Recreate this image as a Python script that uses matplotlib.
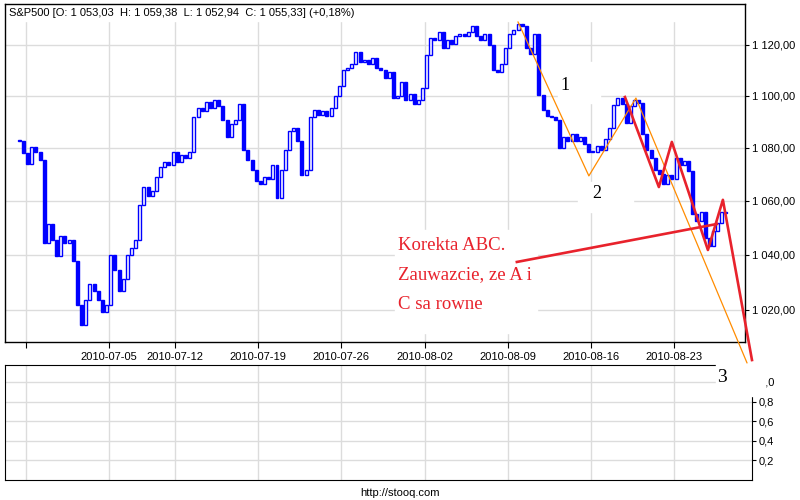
import matplotlib
matplotlib.use("Agg")
import matplotlib.pyplot as plt
from matplotlib.patches import Rectangle

# -----------------------------
# data: S&P500 intraday closes, 4 bars per trading day
# -----------------------------
days = ["06-25", "06-28", "06-29", "06-30", "07-01", "07-02",
        "07-06", "07-07", "07-08", "07-09",
        "07-12", "07-13", "07-14", "07-15", "07-16",
        "07-19", "07-20", "07-21", "07-22", "07-23",
        "07-26", "07-27", "07-28", "07-29", "07-30",
        "08-02", "08-03", "08-04", "08-05", "08-06",
        "08-09", "08-10", "08-11", "08-12", "08-13",
        "08-16", "08-17", "08-18", "08-19", "08-20",
        "08-23", "08-24", "08-25", "08-26"]

first_open = 1083.0
wk_jun25 = [1082.5, 1078.0]
wk_jun28 = [1074.0, 1080.3, 1078.5, 1075.6,
            1044.2, 1051.4, 1045.3, 1039.5,
            1047.0, 1044.2, 1045.5, 1037.6,
            1021.8, 1014.6, 1023.6, 1029.3,
            1026.7, 1023.6, 1019.3, 1021.8]
wk_jul06 = [1040.0, 1034.6, 1026.7, 1031.1,
            1040.0, 1042.5, 1045.5, 1058.5,
            1065.2, 1062.0, 1063.8, 1068.8,
            1072.6, 1074.5, 1073.7, 1078.6]
wk_jul12 = [1074.5, 1077.5, 1076.3, 1078.6,
            1091.7, 1095.5, 1094.0, 1097.7,
            1095.5, 1098.5, 1096.2, 1090.9,
            1084.0, 1089.0, 1090.9, 1097.0,
            1079.3, 1075.6, 1071.8, 1067.4]
wk_jul19 = [1066.3, 1068.8, 1068.1, 1073.7,
            1061.1, 1071.8, 1079.3, 1086.3,
            1087.8, 1082.5, 1069.9, 1071.8,
            1091.7, 1094.7, 1092.8, 1094.0,
            1092.4, 1095.5, 1100.0, 1104.0]
wk_jul26 = [1110.2, 1111.0, 1112.6, 1117.2,
            1113.3, 1114.1, 1112.6, 1114.9,
            1111.0, 1110.2, 1107.1, 1109.5,
            1099.3, 1100.0, 1105.5, 1098.5,
            1100.8, 1097.0, 1098.5, 1103.2]
wk_aug02 = [1116.1, 1122.8, 1122.0, 1125.1,
            1118.8, 1122.0, 1120.4, 1123.6,
            1124.4, 1123.6, 1125.1, 1127.6,
            1123.6, 1122.0, 1124.4, 1120.0,
            1110.2, 1109.5, 1112.6, 1118.8]
wk_aug09 = [1124.4, 1125.9, 1128.3, 1127.6,
            1118.8, 1116.5, 1124.4, 1100.4,
            1094.7, 1092.4, 1091.7, 1090.9,
            1079.9, 1084.0, 1082.5, 1085.2,
            1082.5, 1084.0, 1081.4, 1078.6]
wk_aug16 = [1078.6, 1080.8, 1079.3, 1083.3,
            1087.8, 1096.6, 1099.3, 1097.0,
            1089.4, 1096.2, 1098.5, 1097.4,
            1085.2, 1079.3, 1076.3, 1071.8,
            1070.0, 1066.3, 1069.6, 1068.1]
wk_aug23 = [1076.3, 1073.7, 1074.9, 1071.1,
            1055.0, 1052.4, 1056.0, 1046.2,
            1043.3, 1048.7, 1051.7, 1056.0,
            1055.33]

closes = (wk_jun25 + wk_jun28 + wk_jul06 + wk_jul12 + wk_jul19 +
          wk_jul26 + wk_aug02 + wk_aug09 + wk_aug16 + wk_aug23)

# week starts (day index, 06-28 = 0) and their labels
tick_days = [0, 5, 9, 14, 19, 24, 29, 34, 39]
tick_labels = ["", "2010-07-05", "2010-07-12", "2010-07-19", "2010-07-26",
               "2010-08-02", "2010-08-09", "2010-08-16", "2010-08-23"]
price_ticks = [1020, 1040, 1060, 1080, 1100, 1120]
vol_ticks = [0.2, 0.4, 0.6, 0.8, 1.0]

# hand drawn annotations (day, price)
orange_days = [29.62, 33.88, 36.71, 43.39]
orange_prices = [1129.1, 1069.4, 1099.2, 1001.1]
abc_days = [36.05, 38.09, 38.87, 41.04, 41.94, 43.69]
abc_prices = [1099.6, 1065.2, 1082.3, 1041.8, 1060.4, 1002.1]
arrow_days = [29.55, 41.58]
arrow_prices = [1037.4, 1051.4]

# -----------------------------
# bar positions
# -----------------------------
pos = []
for i, d in enumerate(days):
    slots = range(4)
    if i == 0:
        slots = [2, 3]
    elif i == len(days) - 1:
        slots = [0]
    for k in slots:
        pos.append(i - 1 + (k + 0.5) / 4)

opens = [first_open] + closes[:-1]

BLUE = "#0000ff"
GRID = "#dcdcdc"
RED = "#e8222c"
ORANGE = "#ff8c00"

plt.rcParams["font.family"] = ["Liberation Sans", "DejaVu Sans"]

fig = plt.figure(figsize=(8, 5), dpi=100)


def px(x, y):
    return x / 800, 1 - y / 500


ax = fig.add_axes([5 / 800, 1 - 342 / 500, 740 / 800, 338 / 500])
ax2 = fig.add_axes([5 / 800, 1 - 480 / 500, 747 / 800, 115 / 500])

ax.set_yscale("log")
ax.set_ylim(1008.5, 1136.3)
ax.set_xlim(-1.233, 43.27)

bottoms = [min(o, c) for o, c in zip(opens, closes)]
heights = [max(abs(c - o), 0.15) for o, c in zip(opens, closes)]
faces = ["white" if c >= o else BLUE for o, c in zip(opens, closes)]
ax.bar(pos, heights, bottom=bottoms, width=0.18, color=faces,
       edgecolor=BLUE, linewidth=1.0, zorder=2)

ax.set_axisbelow(True)
ax.grid(True, color=GRID, linewidth=1)
ax.set_yticks(price_ticks)
ax.minorticks_off()
ax.set_yticklabels([f"{v:,.2f}".replace(",", " ").replace(".", ",") for v in price_ticks])
ax.yaxis.tick_right()
ax.set_xticks(tick_days)
ax.set_xticklabels(tick_labels)
ax.tick_params(axis="y", length=3, pad=2, labelsize=8)
ax.tick_params(axis="x", length=4, pad=3, labelsize=8)
for s in ax.spines.values():
    s.set_linewidth(1)

# title band
ax.add_patch(Rectangle((0, 1 - 17 / 338), 1, 17 / 338, transform=ax.transAxes,
                       color="white", zorder=1.5))
ax.text(4 / 740, 1 - 9 / 338, "S&P500 [O: 1 053,03  H: 1 059,38  L: 1 052,94  C: 1 055,33] (+0,18%)",
        transform=ax.transAxes, fontsize=8, va="center", ha="left", zorder=4)

# white boxes behind the annotations
for x0, y0, x1, y1 in [(395, 230, 537, 333), (558, 62, 600, 103), (578, 182, 633, 212)]:
    fx, fy = px(x0, y1)
    ax.add_patch(Rectangle((fx, fy), (x1 - x0) / 800, (y1 - y0) / 500,
                           transform=fig.transFigure, color="white", zorder=1.5))

ax.plot(orange_days, orange_prices, color=ORANGE, lw=0.9, clip_on=False, zorder=3)
ax.plot(abc_days, abc_prices, color=RED, lw=1.9, clip_on=False, zorder=3.5)
ax.plot(arrow_days, arrow_prices, color=RED, lw=1.9, clip_on=False, zorder=3.5)

# lower (volume) panel, empty
ax2.set_xlim(-1.233, 43.69)
ax2.set_ylim(0, 1.173)
ax2.set_axisbelow(True)
ax2.grid(True, color=GRID, linewidth=1)
ax2.set_xticks(tick_days)
ax2.set_xticklabels([])
ax2.set_yticks(vol_ticks)
ax2.set_yticklabels(["0,2", "0,4", "0,6", "0,8", "1,0"])
ax2.yaxis.tick_right()
ax2.tick_params(axis="x", length=0)
ax2.tick_params(axis="y", length=3, pad=2, labelsize=8)

# annotation texts
serif = ["Liberation Serif", "DejaVu Serif"]
for txt, yb in [("Korekta ABC.", 250), ("Zauwazcie, ze A i", 279), ("C sa rowne", 309)]:
    fig.text(*px(398, yb), txt, color=RED, fontsize=13.5, family=serif,
             va="baseline", ha="left", zorder=6)
fig.text(*px(565, 86), "1", fontsize=13, family=serif, ha="center", va="center", zorder=6)
fig.text(*px(597, 193), "2", fontsize=13, family=serif, ha="center", va="center", zorder=6)

fx, fy = px(716, 396)
fig.add_artist(Rectangle((fx, fy), 49 / 800, 32 / 500, transform=fig.transFigure,
                         color="white", zorder=5))
fig.text(*px(722, 378), "3", fontsize=14, family=serif, ha="center", va="center", zorder=6)

fig.text(*px(400, 493), "http://stooq.com", fontsize=8, ha="center", va="center")

fig.savefig("out.png", dpi=100)
